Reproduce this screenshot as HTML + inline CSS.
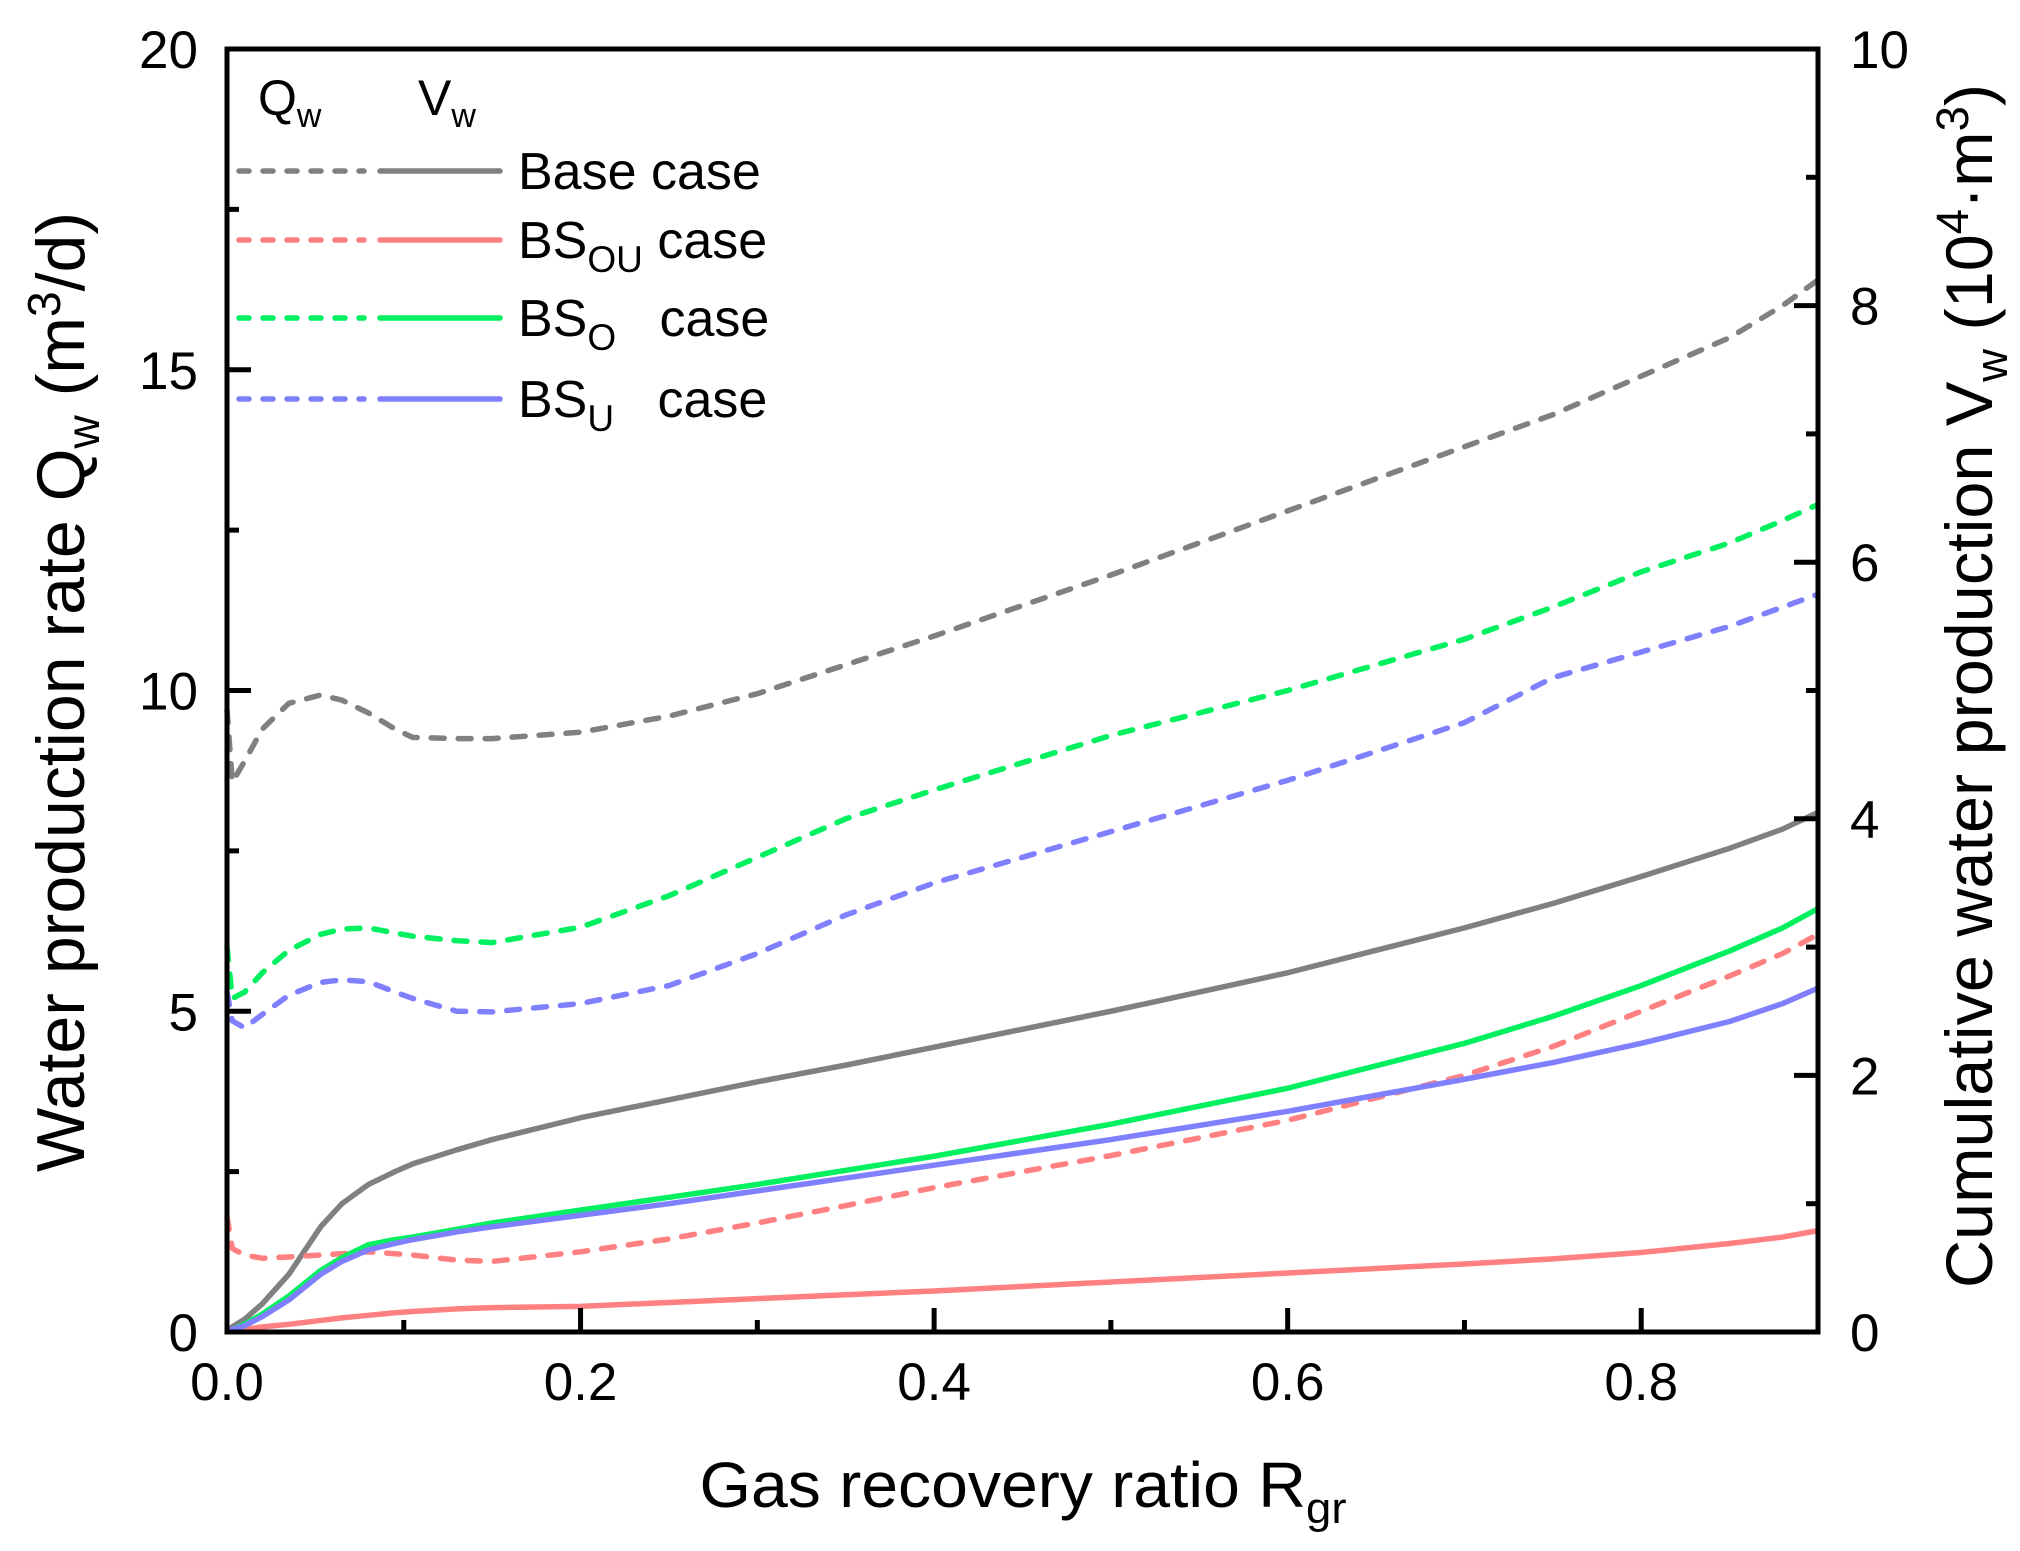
<!DOCTYPE html>
<html><head><meta charset="utf-8"><style>
html,body{margin:0;padding:0;background:#fff;}
svg{display:block;font-family:"Liberation Sans",Arial,sans-serif;}
</style></head><body>
<svg id="chart" width="2020" height="1551" viewBox="0 0 2020 1551">
<g id="series"></g>
<g id="axes"></g>
<g id="legend">
 <text x="258" y="115" font-size="50">Q<tspan font-size="34" dy="12">w</tspan></text>
 <text x="418" y="115" font-size="50">V<tspan font-size="34" dy="12">w</tspan></text>
</g>
<text x="1023" y="1507" font-size="64" text-anchor="middle" textLength="647" lengthAdjust="spacingAndGlyphs">Gas recovery ratio R<tspan font-size="44" dy="16">gr</tspan></text>
<text transform="translate(84,692) rotate(-90)" font-size="68" text-anchor="middle" textLength="960" lengthAdjust="spacingAndGlyphs">Water production rate Q<tspan font-size="46" dy="15">w</tspan><tspan dy="-15"> (m</tspan><tspan font-size="46" dy="-24">3</tspan><tspan dy="24">/d)</tspan></text>
<text transform="translate(1992,686) rotate(-90)" font-size="66" text-anchor="middle" textLength="1204" lengthAdjust="spacingAndGlyphs">Cumulative water production V<tspan font-size="45" dy="15">w</tspan><tspan dy="-15"> (10</tspan><tspan font-size="45" dy="-24">4</tspan><tspan dy="24">·m</tspan><tspan font-size="45" dy="-24">3</tspan><tspan dy="24">)</tspan></text>
</svg>
<script>
const xRgr = [0,0.003,0.01,0.02,0.035,0.053,0.065,0.08,0.095,0.105,0.13,0.15,0.2,0.25,0.3,0.35,0.4,0.5,0.6,0.7,0.75,0.8,0.85,0.88,0.9];
const qBase = [9.7,8.57,8.9,9.4,9.8,9.93,9.85,9.65,9.4,9.27,9.25,9.25,9.35,9.6,9.95,10.4,10.85,11.8,12.8,13.8,14.3,14.9,15.5,16.0,16.4];
const qO    = [6.0,5.2,5.3,5.6,5.95,6.2,6.28,6.3,6.22,6.17,6.1,6.07,6.31,6.8,7.4,8.0,8.45,9.3,10.0,10.8,11.3,11.85,12.3,12.65,12.9];
const qU    = [5.3,4.85,4.74,4.95,5.25,5.45,5.49,5.46,5.3,5.2,5.0,4.99,5.12,5.4,5.9,6.5,7.0,7.8,8.6,9.5,10.2,10.6,11.0,11.3,11.5];
const qOU   = [1.8,1.3,1.2,1.15,1.17,1.2,1.22,1.25,1.22,1.2,1.12,1.1,1.25,1.45,1.7,1.97,2.25,2.75,3.3,4.0,4.45,5.0,5.55,5.9,6.2];
const vBase = [0,0.04,0.1,0.22,0.45,0.82,1.0,1.15,1.25,1.31,1.42,1.5,1.67,1.81,1.95,2.08,2.22,2.5,2.8,3.15,3.34,3.55,3.77,3.92,4.05];
const vO    = [0,0.02,0.06,0.14,0.28,0.48,0.58,0.68,0.72,0.74,0.8,0.85,0.95,1.05,1.15,1.26,1.37,1.62,1.9,2.25,2.46,2.7,2.97,3.15,3.3];
const vU    = [0,0.02,0.05,0.12,0.25,0.45,0.55,0.64,0.69,0.72,0.78,0.82,0.91,1.0,1.1,1.2,1.3,1.5,1.72,1.97,2.1,2.25,2.42,2.56,2.68];
const vOU   = [0,0.01,0.02,0.04,0.06,0.09,0.11,0.13,0.15,0.16,0.18,0.19,0.2,0.23,0.26,0.29,0.32,0.39,0.46,0.53,0.57,0.62,0.69,0.74,0.79];
const xTicks = [0,0.2,0.4,0.6,0.8];
const xTickLabels = ["0.0","0.2","0.4","0.6","0.8"];
const qTicks = [0,5,10,15,20];
const vTicks = [0,2,4,6,8,10];

const L=227,R=1818,T=49,B=1332;
const sx=x=>L+(x/0.9)*(R-L);
const sq=q=>B-(q/20)*(B-T);
const sv=v=>B-(v/10)*(B-T);
const NS="http://www.w3.org/2000/svg";
function mk(tag,attrs,parent){const e=document.createElementNS(NS,tag);for(const k in attrs)e.setAttribute(k,attrs[k]);parent.appendChild(e);return e;}
const S=document.getElementById('series'),A=document.getElementById('axes'),LG=document.getElementById('legend');
const defs=[
 ["base",qBase,vBase,"#808080","Base case",""],
 ["bsou",qOU,vOU,"#ff8080","BS","OU"],
 ["bso",qO,vO,"#00f060","BS","O"],
 ["bsu",qU,vU,"#8080ff","BS","U"]];
const rowY=[171,240,318,399];
defs.forEach((d,i)=>{
 const [id,q,v,c]=d;
 const pd=mk('polyline',{points:xRgr.map((x,j)=>sx(x)+','+sq(q[j])).join(' '),fill:'none',stroke:c,'stroke-width':5.5,'stroke-dasharray':'13 14','stroke-linecap':'round','stroke-linejoin':'round'},S);
 
 
 const ps=mk('polyline',{points:xRgr.map((x,j)=>sx(x)+','+sv(v[j])).join(' '),fill:'none',stroke:c,'stroke-width':5.5,'stroke-linejoin':'round'},S);
 
 
 const y=rowY[i];
 const ld=mk('line',{x1:239,y1:y,x2:364,y2:y,stroke:c,'stroke-width':5.5,'stroke-dasharray':'10 14','stroke-linecap':'round'},LG);
 
 
 const ls=mk('line',{x1:380,y1:y,x2:500,y2:y,stroke:c,'stroke-width':5.5,'stroke-linecap':'round'},LG);
 
 
 const t=mk('text',{x:518,y:y+18,'font-size':52},LG);
 
 
 if(d[5]){t.appendChild(document.createTextNode('BS'));const s=mk('tspan',{'font-size':37,dy:14},t);s.textContent=d[5];const r=mk('tspan',{dy:-14},t);r.textContent=(d[5]=='OU'?' case':'   case');t.setAttribute('style','white-space:pre');}
 else t.textContent=d[4];
});
const fr=mk('rect',{x:L,y:T,width:R-L,height:B-T,fill:'none',stroke:'#000','stroke-width':5},A);


for(let k=0;k<=9;k++){
 const x=k/10;
 const major=k%2==0;
 const tk=mk('line',{x1:sx(x),y1:B,x2:sx(x),y2:B-(major?24:12),stroke:'#000','stroke-width':5},A);
 
 
}
xTicks.forEach((x,i)=>{const t=mk('text',{x:sx(x),y:1400,'font-size':53,'text-anchor':'middle'},A);t.textContent=xTickLabels[i];
 
 });
for(let q=0;q<=20;q+=2.5){const major=q%5==0;
 const tk=mk('line',{x1:L,y1:sq(q),x2:L+(major?24:12),y2:sq(q),stroke:'#000','stroke-width':5},A);
 
 }
qTicks.forEach(q=>{const t=mk('text',{x:198,y:sq(q)+19,'font-size':53,'text-anchor':'end'},A);t.textContent=q;
 
 });
for(let v=0;v<=10;v+=1){const major=v%2==0;
 const tk=mk('line',{x1:R,y1:sv(v),x2:R-(major?24:12),y2:sv(v),stroke:'#000','stroke-width':5},A);
 
 }
vTicks.forEach(v=>{const t=mk('text',{x:1850,y:sv(v)+19,'font-size':53,'text-anchor':'start'},A);t.textContent=v;
 
 });
</script>
</body></html>
